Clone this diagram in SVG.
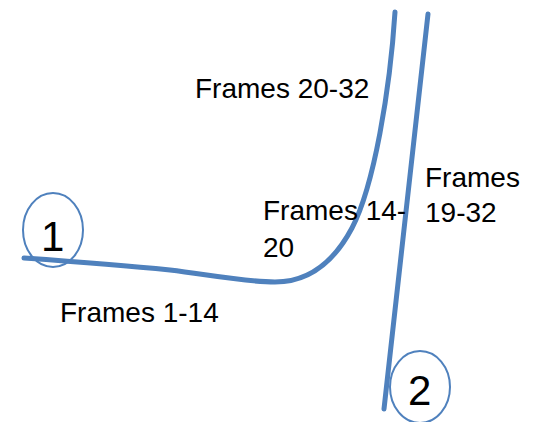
<svg xmlns="http://www.w3.org/2000/svg" width="535" height="422" viewBox="0 0 535 422">
  <style>
    .track { fill: none; stroke: #4F81BD; stroke-width: 5; stroke-linecap: round; }
    .ring { fill: none; stroke: #4F81BD; stroke-width: 2; }
    .lbl { font-family: "Liberation Sans", Arial, sans-serif; font-size: 28px; fill: #000; }
    .num { font-family: "Liberation Sans", Arial, sans-serif; font-size: 42px; fill: #000; }
  </style>
  <rect width="535" height="422" fill="#fff"/>
  <g id="connectors">
    <path id="track1" class="track" d="M24,258 C80,262 130,266 170,270 C210,275 245,282 275,282 C310,282 335,260 352,228 C374,186 390,90 395,12"/>
    <path id="track2" class="track" d="M428,14 L384,409"/>
  </g>
  <g id="node1">
    <ellipse class="ring" cx="53" cy="230" rx="30" ry="37"/>
    <text class="num" x="41" y="251">1</text>
  </g>
  <g id="node2">
    <ellipse class="ring" cx="420" cy="387" rx="30" ry="36"/>
    <text class="num" x="408" y="405">2</text>
  </g>
  <g id="labels">
    <text class="lbl" x="195" y="98">Frames 20-32</text>
    <text class="lbl" x="263" y="220">Frames 14-</text>
    <text class="lbl" x="263" y="257">20</text>
    <text class="lbl" x="425" y="187">Frames</text>
    <text class="lbl" x="425" y="222">19-32</text>
    <text class="lbl" x="60" y="322">Frames 1-14</text>
  </g>
</svg>
